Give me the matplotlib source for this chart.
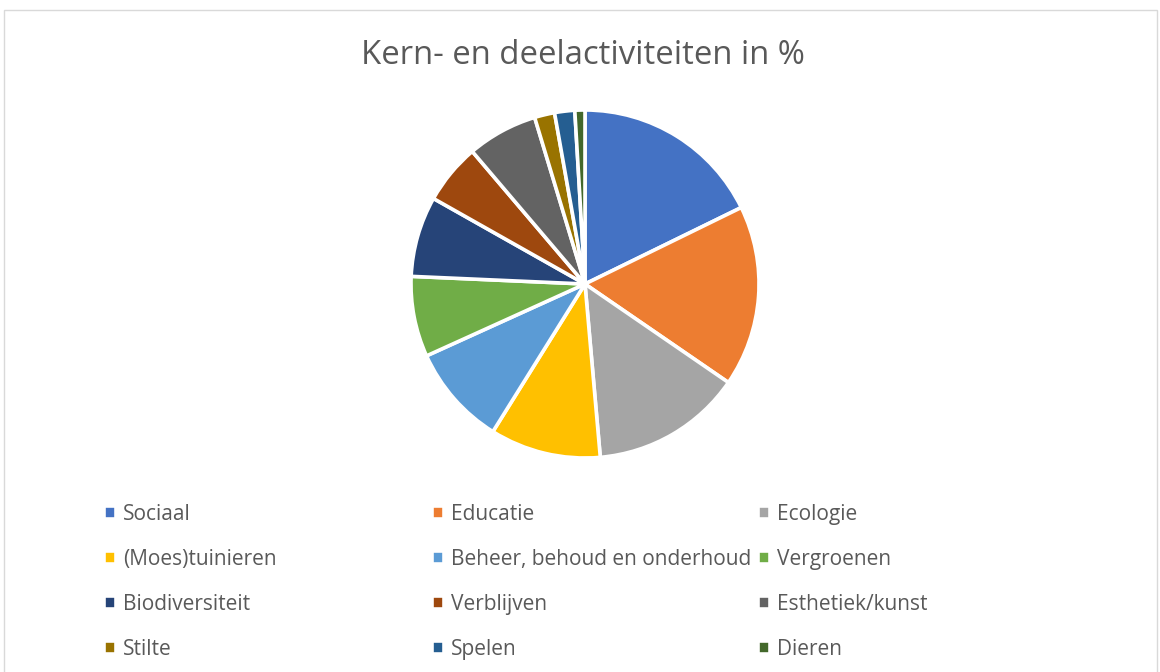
import matplotlib
matplotlib.use("Agg")
import matplotlib.pyplot as plt
from matplotlib.patches import Rectangle

categories = ["Sociaal", "Educatie", "Ecologie", "(Moes)tuinieren",
              "Beheer, behoud en onderhoud", "Vergroenen", "Biodiversiteit",
              "Verblijven", "Esthetiek/kunst", "Stilte", "Spelen", "Dieren"]
values = [19, 18, 15, 11, 10, 8, 8, 6, 7, 2, 2, 1]
colors = ["#4472C4", "#ED7D31", "#A5A5A5", "#FFC000", "#5B9BD5", "#70AD47",
          "#264478", "#9E480E", "#636363", "#997300", "#255E91", "#43682B"]
title = "Kern- en deelactiviteiten in %"

W, H = 1160, 672
fig = plt.figure(figsize=(W / 100, H / 100), dpi=100)
plt.rcParams['font.family'] = ['Open Sans', 'DejaVu Sans']

# chart border
fig.patches.append(Rectangle((4 / W, -0.01), (1157 - 4) / W, (H - 10) / H + 0.01,
                             transform=fig.transFigure, fill=False,
                             edgecolor="#D9D9D9", linewidth=1.0))

cx, cy, r = 585, 284, 174
ax = fig.add_axes([(cx - r) / W, 1 - (cy + r) / H, 2 * r / W, 2 * r / H])
wedges, _ = ax.pie(values, colors=colors, startangle=90, counterclock=False,
                   wedgeprops=dict(edgecolor="white", linewidth=2.6))
ax.set_xlim(-1, 1)
ax.set_ylim(-1, 1)
ax.set_aspect("equal")

fig.text(583 / W, 1 - 56 / H, title, ha="center", va="center",
         fontsize=23.7, color="#595959")

col_x = [104, 432, 758]
for c in range(3):
    idx = [c + 3 * k for k in range(4)]
    fig.legend([wedges[i] for i in idx], [categories[i] for i in idx],
               loc="upper left", bbox_to_anchor=(col_x[c] / W, 1 - 504 / H),
               bbox_transform=fig.transFigure, frameon=False, ncol=1,
               fontsize=15.0, labelcolor="#595959", borderpad=0, borderaxespad=0,
               handlelength=0.56, handleheight=0.56, handletextpad=0.36,
               labelspacing=1.15)

fig.savefig("out.png", dpi=100)
